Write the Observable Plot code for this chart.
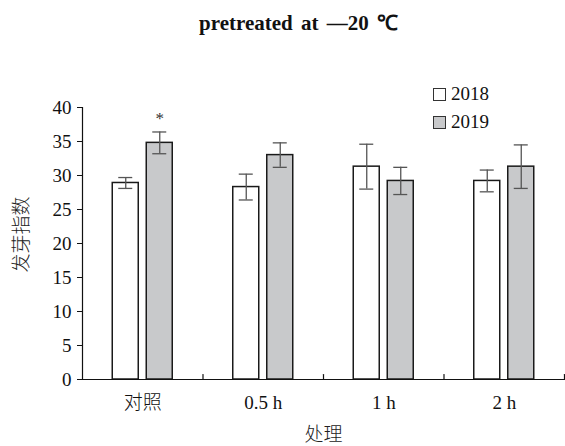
<!DOCTYPE html>
<html><head><meta charset="utf-8">
<script src="https://cdn.jsdelivr.net/npm/d3@7"></script>
<script src="https://cdn.jsdelivr.net/npm/@observablehq/plot@0.6"></script>
<style>
body{margin:0;background:#fff;}
#wrap{position:relative;width:565px;height:446px;background:#fff;}
#title{height:55px;box-sizing:border-box;padding-top:11px;padding-left:32px;text-align:center;font:bold 21px "Liberation Serif",serif;word-spacing:3px;line-height:24px;color:#111;}
#legend{position:absolute;left:433px;top:80px;font:19px "Liberation Serif",serif;color:#111;}
.item{display:flex;align-items:center;height:28px;}
.sw{width:13px;height:13px;border:1.2px solid #333;margin-right:5px;box-sizing:border-box;}
#chart svg{display:block;}
</style></head>
<body><div id="wrap"><div id="title">pretreated at —20 ℃</div><div id="chart"></div><div id="legend"></div></div>
<script>
const categories = ["对照", "0.5 h", "1 h", "2 h"];
const series = ["2018", "2019"];
const values2018 = [28.9, 28.3, 31.3, 29.2];
const errors2018 = [0.8, 1.9, 3.3, 1.6];
const values2019 = [34.8, 33.0, 29.2, 31.3];
const errors2019 = [1.6, 1.8, 2.0, 3.2];
const marks2019 = ["*", "", "", ""];
const yTicks = [0, 5, 10, 15, 20, 25, 30, 35, 40];
const yLabel = "发芽指数";
const xLabel = "处理";
const fills = {"2018": "#ffffff", "2019": "#c8c9cb"};

const W = 565, H = 391, mL = 82, mR = 1, mT = 52, mB = 67;
const unit = (W - mL - mR) / categories.length;
const barPx = 26, gapPx = 8, capPx = 7;

const seriesData = [
  {values: values2018, errors: errors2018, marks: categories.map(() => "")},
  {values: values2019, errors: errors2019, marks: marks2019}
];
const rows = [];
categories.forEach((c, i) => {
  series.forEach((s, k) => {
    const off = (k === 0 ? -1 : 1) * (gapPx / 2 + barPx / 2) / unit;
    const xc = i + 0.5 + off;
    rows.push({
      category: c, series: s, xc,
      x1: xc - barPx / 2 / unit, x2: xc + barPx / 2 / unit,
      value: seriesData[k].values[i], err: seriesData[k].errors[i],
      mark: seriesData[k].marks[i]
    });
  });
});
const centers = categories.map((c, i) => i + 0.5);
const boundaries = categories.map((c, i) => i + 1);
const cjk = '"Noto Sans CJK SC", sans-serif';

const chart = Plot.plot({
  width: W, height: H,
  marginLeft: mL, marginRight: mR, marginTop: mT, marginBottom: mB,
  x: {domain: [0, categories.length], axis: null},
  y: {domain: [0, 40], axis: null},
  style: {fontFamily: '"Liberation Serif", "Noto Sans CJK SC", serif', fontSize: "19px", fontWeight: 300, color: "#111", background: "#fff"},
  marks: [
    Plot.rect(rows, {x1: "x1", x2: "x2", y1: 0, y2: "value", fill: d => fills[d.series], stroke: "#1a1a1a", strokeWidth: 1.5}),
    Plot.ruleX(rows, {x: "xc", y1: d => d.value - d.err, y2: d => d.value + d.err, stroke: "#555", strokeWidth: 1.3}),
    Plot.ruleY(rows, {y: d => d.value + d.err, x1: d => d.xc - capPx / unit, x2: d => d.xc + capPx / unit, stroke: "#555", strokeWidth: 1.3}),
    Plot.ruleY(rows, {y: d => d.value - d.err, x1: d => d.xc - capPx / unit, x2: d => d.xc + capPx / unit, stroke: "#555", strokeWidth: 1.3}),
    Plot.text(rows.filter(d => d.mark), {x: "xc", y: d => d.value + d.err, text: "mark", dy: -13, fontSize: 17, fill: "#333"}),
    Plot.ruleY([0], {stroke: "#111", strokeWidth: 1.2}),
    Plot.ruleX([0], {y1: 0, y2: 40, stroke: "#111", strokeWidth: 1.2}),
    Plot.vector(boundaries, {x: d => d, y: 0, length: 5, rotate: 0, anchor: "start", stroke: "#111", strokeWidth: 1.2,
      shape: {draw(ctx, l) { ctx.moveTo(0, 0); ctx.lineTo(0, -l); }}}),
    Plot.axisY(yTicks, {tickSize: 5, tickPadding: 6, stroke: "#111", label: null}),
    Plot.text([yLabel], {text: d => d, frameAnchor: "left", textAnchor: "middle", lineAnchor: "middle", rotate: -90, dx: -61, dy: -9, fontFamily: cjk, fontWeight: 300, fontSize: 19, fill: "#222"}),
    Plot.axisX(centers, {tickSize: 0, tickPadding: 16, tickFormat: d => categories[Math.round(d - 0.5)], label: null}),
    Plot.text([xLabel], {text: d => d, frameAnchor: "bottom", lineAnchor: "middle", dy: 55, fontFamily: cjk, fontWeight: 300, fontSize: 19, fill: "#222"})
  ]
});
document.getElementById("chart").appendChild(chart);

const legend = document.getElementById("legend");
series.forEach(s => {
  const item = document.createElement("div");
  item.className = "item";
  const sw = document.createElement("span");
  sw.className = "sw";
  sw.style.background = fills[s];
  const t = document.createElement("span");
  t.textContent = s;
  item.appendChild(sw); item.appendChild(t);
  legend.appendChild(item);
});
</script>
</body></html>
